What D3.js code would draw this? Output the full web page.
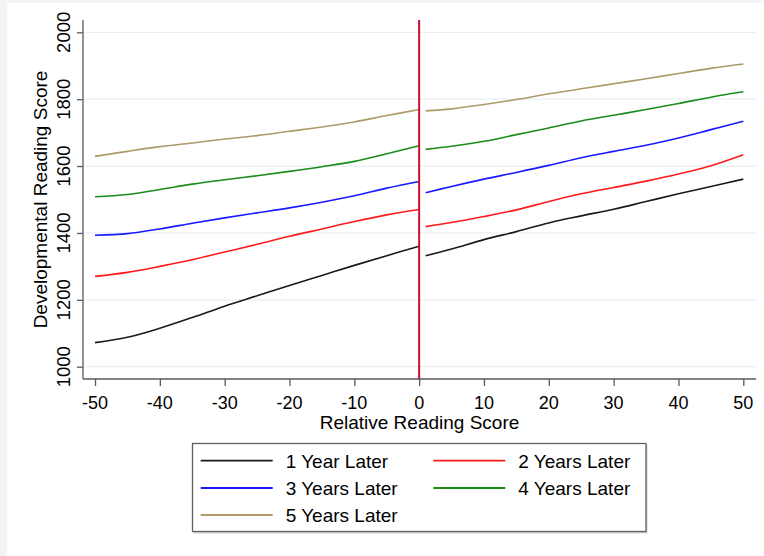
<!DOCTYPE html>
<html>
<head>
<meta charset="utf-8">
<script src="https://cdn.jsdelivr.net/npm/d3@7/dist/d3.min.js"></script>
<style>
  html, body { margin: 0; padding: 0; background: #fff; }
  svg { display: block; font-family: "Liberation Sans", Arial, sans-serif; }
</style>
</head>
<body>
<svg id="chart" width="764" height="556"></svg>
<script>
// ---- data ----
const xLeft  = [-50, -45, -40, -35, -30, -25, -20, -15, -10, -5, 0];
const xRight = [1, 5, 10, 15, 20, 25, 30, 35, 40, 45, 50];

const seriesNames = ["1 Year Later", "2 Years Later", "3 Years Later", "4 Years Later", "5 Years Later"];
const seriesColors = ["#1a1a1a", "#ff1a1a", "#1a1aff", "#1a8c1a", "#ae9a68"];

const year1Left  = [1072, 1088, 1115, 1147, 1181, 1212, 1243, 1273, 1303, 1332, 1360];
const year2Left  = [1270, 1282, 1300, 1320, 1343, 1366, 1390, 1412, 1434, 1454, 1470];
const year3Left  = [1393, 1398, 1412, 1429, 1445, 1460, 1475, 1492, 1511, 1534, 1554];
const year4Left  = [1508, 1515, 1530, 1546, 1559, 1571, 1584, 1598, 1614, 1637, 1661];
const year5Left  = [1629, 1644, 1658, 1669, 1681, 1691, 1704, 1717, 1732, 1751, 1769];

const year1Right = [1332, 1352, 1380, 1404, 1430, 1451, 1471, 1494, 1517, 1539, 1561];
const year2Right = [1419, 1431, 1449, 1469, 1494, 1517, 1536, 1555, 1576, 1601, 1634];
const year3Right = [1520, 1539, 1561, 1581, 1602, 1625, 1644, 1662, 1684, 1709, 1734];
const year4Right = [1650, 1659, 1674, 1694, 1714, 1735, 1752, 1769, 1787, 1806, 1822];
const year5Right = [1765, 1771, 1784, 1799, 1816, 1831, 1846, 1861, 1877, 1892, 1905];

const xTicks = [-50, -40, -30, -20, -10, 0, 10, 20, 30, 40, 50];
const yTicks = [1000, 1200, 1400, 1600, 1800, 2000];
const cutoff = 0;

const leftSeries  = [year1Left, year2Left, year3Left, year4Left, year5Left];
const rightSeries = [year1Right, year2Right, year3Right, year4Right, year5Right];

// ---- layout ----
const svg = d3.select("#chart");
const W = 764, H = 556;
const plot = { left: 83, right: 756, top: 20, bottom: 379 };

// background band (screenshot frame)
svg.append("rect").attr("x", 0).attr("y", 0).attr("width", W).attr("height", H).attr("fill", "#f3f4f5");
svg.append("rect").attr("x", 7).attr("y", 3).attr("width", W - 7).attr("height", H - 3).attr("fill", "#ffffff");

const x = d3.scaleLinear().domain([-50, 50]).range([95, 743.3]);
const y = d3.scaleLinear().domain([1000, 2000]).range([366.7, 32.3]);

// gridlines
svg.append("g").selectAll("line").data(yTicks).join("line")
  .attr("x1", plot.left + 1).attr("x2", plot.right)
  .attr("y1", d => y(d)).attr("y2", d => y(d))
  .attr("stroke", "#e8eff4").attr("stroke-width", 1.2);

// y axis
const yAxis = svg.append("g")
  .attr("transform", `translate(${plot.left},0)`)
  .call(d3.axisLeft(y).tickValues(yTicks).tickSize(6).tickFormat(""));
yAxis.select(".domain").attr("d", `M0,${plot.top}V${plot.bottom}`).attr("stroke", "#5a5a5a").attr("stroke-width", 1.3);
yAxis.selectAll(".tick line").attr("stroke", "#5a5a5a").attr("stroke-width", 1.3);

svg.append("g").selectAll("text").data(yTicks).join("text")
  .attr("transform", d => `translate(70,${y(d)}) rotate(-90)`)
  .attr("text-anchor", "middle")
  .attr("font-size", 18.5)
  .attr("fill", "#000")
  .text(d => d);

// x axis
const xAxis = svg.append("g")
  .attr("transform", `translate(0,${plot.bottom})`)
  .call(d3.axisBottom(x).tickValues(xTicks).tickSize(7).tickFormat(""));
xAxis.select(".domain").attr("d", `M${plot.left},0H${plot.right}`).attr("stroke", "#5a5a5a").attr("stroke-width", 1.3);
xAxis.selectAll(".tick line").attr("stroke", "#5a5a5a").attr("stroke-width", 1.3);

svg.append("g").selectAll("text").data(xTicks).join("text")
  .attr("x", d => x(d)).attr("y", 409)
  .attr("text-anchor", "middle")
  .attr("font-size", 18)
  .attr("fill", "#000")
  .text(d => d);

// axis titles
svg.append("text")
  .attr("transform", `translate(47,${(plot.top + plot.bottom) / 2}) rotate(-90)`)
  .attr("text-anchor", "middle").attr("font-size", 19).attr("fill", "#000")
  .text("Developmental Reading Score");
svg.append("text")
  .attr("x", (plot.left + plot.right) / 2).attr("y", 429)
  .attr("text-anchor", "middle").attr("font-size", 19).attr("fill", "#000")
  .text("Relative Reading Score");

// lines
const line = d3.line().curve(d3.curveCatmullRom.alpha(0.5));
const g = svg.append("g").attr("fill", "none").attr("stroke-width", 1.6);
leftSeries.forEach((vals, i) => {
  g.append("path")
    .attr("d", line(xLeft.map((xv, j) => [x(xv), y(vals[j])])))
    .attr("stroke", seriesColors[i]);
});
rightSeries.forEach((vals, i) => {
  g.append("path")
    .attr("d", line(xRight.map((xv, j) => [x(xv), y(vals[j])])))
    .attr("stroke", seriesColors[i]);
});

// cutoff line
svg.append("line")
  .attr("x1", x(cutoff)).attr("x2", x(cutoff))
  .attr("y1", plot.top).attr("y2", plot.bottom)
  .attr("stroke", "#c8102e").attr("stroke-width", 2);

// legend
const lg = svg.append("g");
lg.append("rect").attr("x", 193.5).attr("y", 444.5).attr("width", 454).attr("height", 89)
  .attr("fill", "#d0d0d0");
lg.append("rect").attr("x", 192.5).attr("y", 443.5).attr("width", 453.5).attr("height", 88)
  .attr("fill", "#fff").attr("stroke", "#606060").attr("stroke-width", 1.3);

const cols = [{ lx: 200.7, tx: 285.7 }, { lx: 433.3, tx: 518.3 }];
const rows = [460.7, 488, 515];
seriesNames.forEach((name, i) => {
  const c = cols[i % 2], r = rows[Math.floor(i / 2)];
  lg.append("line").attr("x1", c.lx).attr("x2", c.lx + 72)
    .attr("y1", r).attr("y2", r)
    .attr("stroke", seriesColors[i]).attr("stroke-width", 1.8);
  lg.append("text").attr("x", c.tx).attr("y", r + 7)
    .attr("font-size", 19).attr("fill", "#000").text(name);
});
</script>
</body>
</html>
